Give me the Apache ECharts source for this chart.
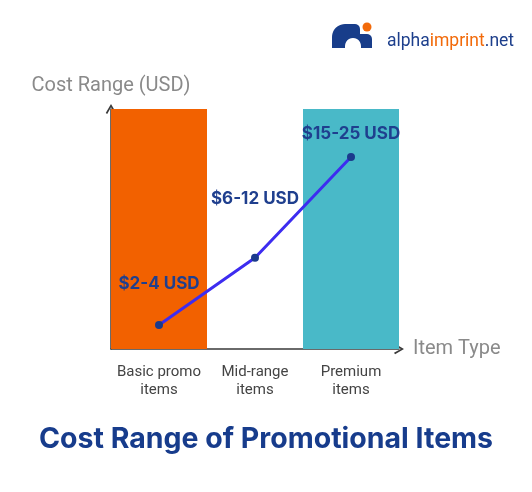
<!DOCTYPE html>
<html>
<head>
<meta charset="utf-8">
<script src="https://cdn.jsdelivr.net/npm/echarts@6/dist/echarts.min.js"></script>
<style>
html,body{margin:0;padding:0;background:#fff;}
#chart{width:532px;height:492px;}
</style>
</head>
<body>
<div id="chart"></div>
<script>
var categories = ['Basic promo\nitems', 'Mid-range\nitems', 'Premium\nitems'];
var barValues = [100, null, 100];
var barColors = ['#f26100', '#ffffff', '#49b9c8'];
var costValues = [10, 38, 80];
var costLabels = ['$2-4 USD', '$6-12 USD', '$15-25 USD'];
var labelDistances = [29, 46, 11];
var chartTitle = 'Cost Range of Promotional Items';
var yAxisName = 'Cost Range (USD)';
var xAxisName = 'Item Type';

var chart = echarts.init(document.getElementById('chart'));
var chevron = 'path://M0,8.5 L5,0 L10,8.5 L8.6,9.5 L5,3 L1.4,9.5 Z';

function arcPts(cx, cy, r, a0, a1, n) {
  var pts = [];
  for (var i = 0; i <= n; i++) {
    var a = (a0 + (a1 - a0) * i / n) * Math.PI / 180;
    pts.push([cx + r * Math.cos(a), cy + r * Math.sin(a)]);
  }
  return pts;
}
var logoPts = [[332, 48]]
  .concat(arcPts(345, 37, 13, 180, 270, 10))
  .concat(arcPts(355, 29, 5, 270, 360, 5))
  .concat([[360, 34], [367, 34]])
  .concat(arcPts(367, 39, 5, 270, 360, 5))
  .concat([[372, 48], [361, 48]])
  .concat(arcPts(353, 46, 8, 0, -180, 12))
  .concat([[345, 48]]);

var option = {
  animation: false,
  backgroundColor: '#ffffff',
  grid: {left: 111, right: 133, top: 109, bottom: 143, containLabel: false},
  xAxis: {
    type: 'category',
    data: categories,
    name: xAxisName,
    nameLocation: 'end',
    nameGap: 14,
    nameTextStyle: {color: '#8a8a8a', fontSize: 20, fontFamily: 'Roboto', verticalAlign: 'middle'},
    axisLine: {show: true, symbol: ['none', chevron], symbolSize: [12, 10], lineStyle: {color: '#3a3a3a', width: 1.5}},
    axisTick: {show: false},
    axisLabel: {interval: 0, color: '#444444', fontSize: 15, fontFamily: 'Roboto', lineHeight: 18, margin: 14}
  },
  yAxis: {
    type: 'value',
    min: 0,
    max: 100,
    name: yAxisName,
    nameLocation: 'end',
    nameGap: 13,
    nameTextStyle: {color: '#8a8a8a', fontSize: 20, fontFamily: 'Roboto'},
    axisLine: {show: true, symbol: ['none', chevron], symbolSize: [12, 10], lineStyle: {color: '#3a3a3a', width: 1.5}},
    axisTick: {show: false},
    axisLabel: {show: false},
    splitLine: {show: false}
  },
  series: [
    {
      type: 'bar',
      barWidth: '100%',
      barGap: '0%',
      barCategoryGap: '0%',
      data: barValues.map(function (v, i) {
        return {value: v == null ? '-' : v, itemStyle: {color: barColors[i]}};
      }),
      z: 1
    },
    {
      type: 'line',
      data: costValues.map(function (v, i) {
        return {
          value: v,
          label: {show: true, position: 'top', distance: labelDistances[i], formatter: costLabels[i]}
        };
      }),
      symbol: 'circle',
      symbolSize: 8,
      itemStyle: {color: '#1b3a8c'},
      lineStyle: {color: '#3d2cf0', width: 3},
      label: {color: '#1f3f8e', fontSize: 17, fontWeight: 'bold', fontFamily: 'Inter'},
      z: 3
    }
  ],
  graphic: [
    {
      type: 'text',
      x: 266,
      y: 439,
      style: {text: chartTitle, fill: '#173c8c', font: 'bold 28.5px Inter', textAlign: 'center', textVerticalAlign: 'middle'}
    },
    {
      type: 'polygon',
      shape: {points: logoPts},
      style: {fill: '#183d8a'}
    },
    {
      type: 'circle',
      shape: {cx: 367, cy: 27, r: 4.5},
      style: {fill: '#f26a0a'}
    },
    {
      type: 'text',
      x: 387,
      y: 42,
      style: {
        rich: {
          a: {fill: '#1d3f8c', fontSize: 17.5, fontFamily: 'Roboto'},
          b: {fill: '#f26a0a', fontSize: 17.5, fontFamily: 'Roboto'}
        },
        text: '{a|alpha}{b|imprint}{a|.net}',
        textVerticalAlign: 'middle'
      }
    }
  ]
};
chart.setOption(option);
</script>
</body>
</html>
